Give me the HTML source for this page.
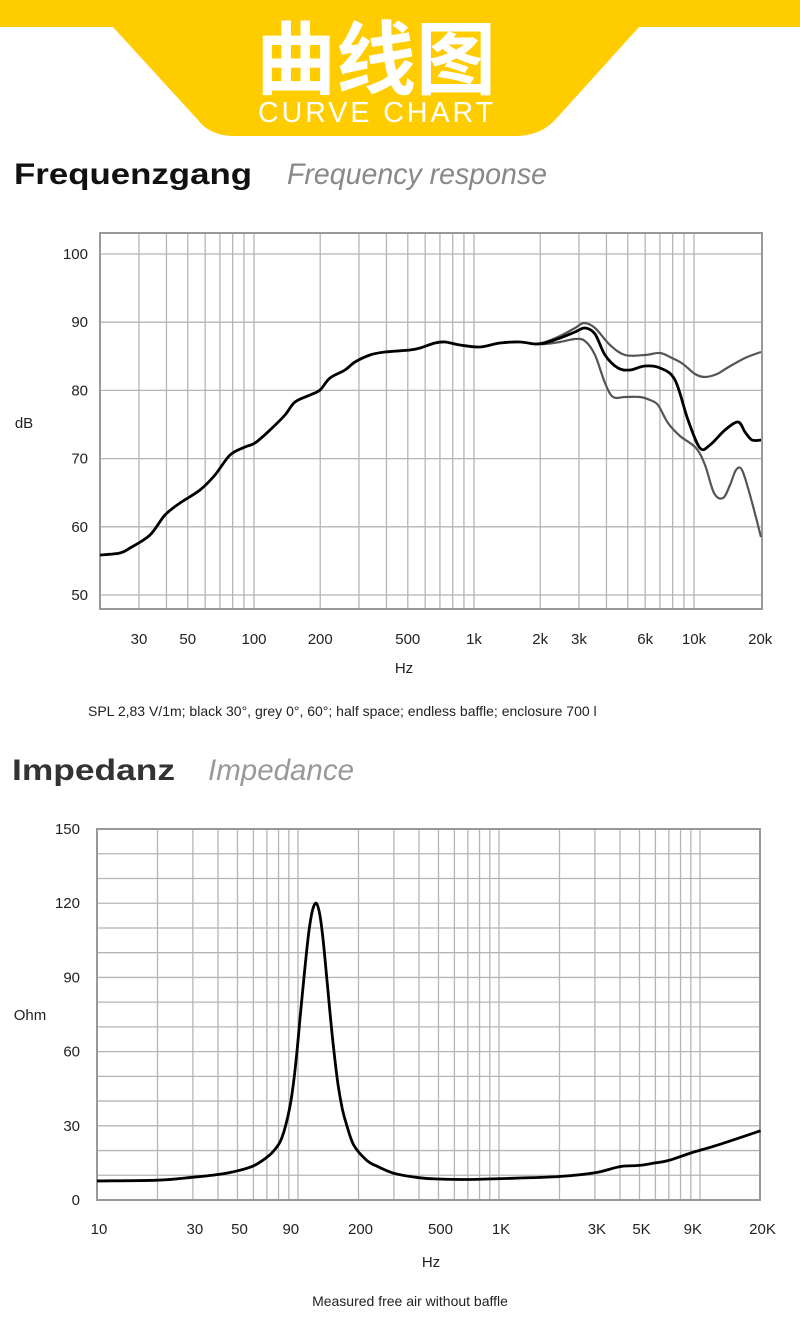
<!DOCTYPE html>
<html><head><meta charset="utf-8"><style>
body{margin:0;width:800px;height:1324px;background:#fff;overflow:hidden;font-family:"Liberation Sans","Noto Sans CJK SC",sans-serif}
svg{position:absolute;left:0;top:0}
</style></head><body>
<svg id="s" width="800" height="1324" viewBox="0 0 800 1324" xmlns="http://www.w3.org/2000/svg">
<rect x="0" y="0" width="800" height="27" fill="#FFCC00"/>
<path d="M112 26 L640 26 L555 120 Q540 136 515 136 L235 136 Q210 136 198 120 Z" fill="#FFCC00"/>
<text x="376" y="88" text-anchor="middle" font-family="'Noto Sans CJK SC',sans-serif" font-weight="bold" font-size="80" fill="#fff">曲线图</text>
<text x="377" y="122" text-anchor="middle" font-family="'Liberation Sans',sans-serif" font-size="29" letter-spacing="3" fill="#fff" textLength="238" lengthAdjust="spacingAndGlyphs">CURVE CHART</text>
<text x="14" y="184" font-weight="bold" font-size="30" fill="#111" textLength="238" lengthAdjust="spacingAndGlyphs">Frequenzgang</text>
<text x="287" y="184" font-style="italic" font-size="30" fill="#888" textLength="260" lengthAdjust="spacingAndGlyphs">Frequency response</text>
<text x="12" y="780" font-weight="bold" font-size="30" fill="#333" textLength="163" lengthAdjust="spacingAndGlyphs">Impedanz</text>
<text x="208" y="780" font-style="italic" font-size="30" fill="#999" textLength="146" lengthAdjust="spacingAndGlyphs">Impedance</text>
<text x="88" y="716" font-size="14" fill="#222">SPL 2,83 V/1m; black 30°, grey 0°, 60°; half space; endless baffle; enclosure 700 l</text>
<text x="410" y="1306" text-anchor="middle" font-size="14" fill="#222">Measured free air without baffle</text>
<g id="g1"></g><g id="g2"></g>
</svg>
<script>
var s=document.getElementById('g1'),t=document.getElementById('g2'),h1='',h2='';
function L(x1,y1,x2,y2,c,w){return '<line x1="'+x1+'" y1="'+y1+'" x2="'+x2+'" y2="'+y2+'" stroke="'+c+'" stroke-width="'+w+'"/>';}
function T(x,y,txt,a){return '<text x="'+x+'" y="'+y+'" text-anchor="'+(a||'middle')+'" font-size="15" fill="#222">'+txt+'</text>';}
var fr=[];for(var d=10;d<=10000;d*=10)for(var k=1;k<10;k++)fr.push(d*k);fr.push(20000);
var X1=function(f){return 254+220*Math.log10(f/100)};
fr.forEach(function(f){if(f>20&&f<20000)h1+=L(X1(f),233,X1(f),609,'#b5b5b5',1.3)});
for(var v=50;v<=100;v+=10){var y=595-(v-50)*6.82;h1+=L(100,y,762,y,'#b5b5b5',1.3);h1+=T(88,y+5,v,'end');}
h1+='<rect x="100" y="233" width="662" height="376" fill="none" stroke="#999" stroke-width="2"/>';
[[30,'30'],[50,'50'],[100,'100'],[200,'200'],[500,'500'],[1000,'1k'],[2000,'2k'],[3000,'3k'],[6000,'6k'],[10000,'10k'],[20000,'20k']].forEach(function(a){h1+=T(Math.min(X1(a[0]),762),644,a[1])});
h1+=T(24,428,'dB');h1+=T(404,673,'Hz');
function cr(p){var d='M'+p[0][0]+' '+p[0][1];for(var i=0;i<p.length-1;i++){var a=p[Math.max(0,i-1)],b=p[i],c=p[i+1],e=p[Math.min(p.length-1,i+2)];d+=' C'+(b[0]+(c[0]-a[0])/6).toFixed(1)+' '+(b[1]+(c[1]-a[1])/6).toFixed(1)+' '+(c[0]-(e[0]-b[0])/6).toFixed(1)+' '+(c[1]-(e[1]-b[1])/6).toFixed(1)+' '+c[0].toFixed(1)+' '+c[1].toFixed(1);}return d;}
var blk=[[100,555],[120,553],[130,548],[150,535],[165,515],[180,503],[200,490],[215,475],[230,455],[245,447],[255,443],[270,430],[285,415],[295,402],[310,395],[320,390],[330,378],[345,370],[355,362],[370,355],[385,352],[410,350],[420,348],[435,343],[445,342],[460,345],[480,347],[500,343],[520,342],[535,344],[545,343],[560,338],[575,332],[585,328],[595,334],[605,355],[618,368],[630,370],[645,366],[660,368],[675,380],[688,420],[700,448],[710,445],[725,430],[738,422],[745,432],[752,440],[761,440]];
var g0=[[535,344],[545,342],[560,336],[575,328],[584,323],[595,328],[610,345],[625,355],[645,355],[660,353],[672,358],[683,364],[695,374],[705,377],[717,374],[727,368],[745,358],[761,352]];
var g60=[[535,344],[545,344],[560,342],[575,339],[585,341],[595,355],[605,383],[613,397],[625,397],[640,397],[650,400],[658,405],[668,423],[680,436],[696,448],[705,465],[714,493],[723,498],[730,485],[736,470],[742,470],[750,495],[761,537]];
h1+='<path d="'+cr(g0)+'" fill="none" stroke="#555" stroke-width="2.2"/>';
h1+='<path d="'+cr(g60)+'" fill="none" stroke="#555" stroke-width="2.2"/>';
h1+='<path d="'+cr(blk)+'" fill="none" stroke="#000" stroke-width="2.8"/>';
s.innerHTML=h1;
var X2=function(f){return 97+201*Math.log10(f/10)},Y2=function(o){return 1200-o*2.473};
fr.forEach(function(f){if(f>10&&f<20000)h2+=L(X2(f),829,X2(f),1200,'#b5b5b5',1.3)});
for(var o=10;o<150;o+=10)h2+=L(97,Y2(o),760,Y2(o),'#b5b5b5',1.3);
for(o=0;o<=150;o+=30)h2+=T(80,Y2(o)+5,o,'end');
h2+='<rect x="97" y="829" width="663" height="371" fill="none" stroke="#999" stroke-width="2"/>';
[[10,'10'],[30,'30'],[50,'50'],[90,'90'],[200,'200'],[500,'500'],[1000,'1K'],[3000,'3K'],[5000,'5K'],[9000,'9K'],[20000,'20K']].forEach(function(a){h2+=T(X2(a[0])+2,1234,a[1])});
h2+=T(30,1020,'Ohm');h2+=T(431,1267,'Hz');
var zp=[[10,7.7],[20,8.0],[30,9.2],[40,10.3],[50,11.8],[60,13.8],[68,16.5],[75,19.5],[82,24],[88,32],[93,42],[98,57],[103,76],[108,93],[113,108],[118,117],[123,120],[128,116],[133,106],[139,90],[145,74],[151,60],[158,47],[166,37],[175,30],[190,22],[220,16],[250,13.5],[300,10.8],[400,9],[500,8.5],[700,8.3],[1000,8.6],[2000,9.5],[3000,11],[4000,13.5],[5000,14],[6000,15],[7000,16],[9000,19],[12000,22],[20000,28]];
h2+='<path d="'+cr(zp.map(function(p){return [X2(p[0]),Y2(p[1])]}))+'" fill="none" stroke="#000" stroke-width="2.8"/>';
t.innerHTML=h2;
</script>
</body></html>
